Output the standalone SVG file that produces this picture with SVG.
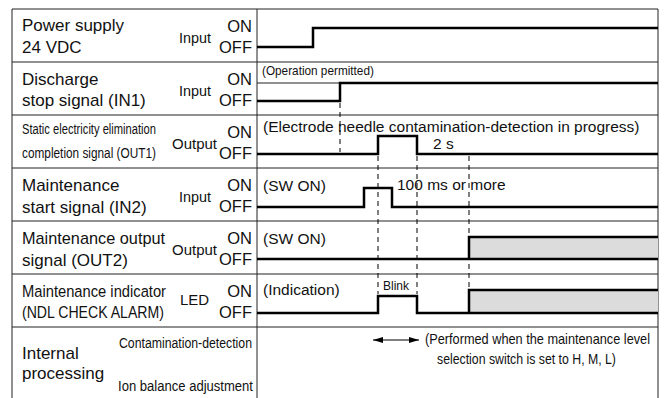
<svg xmlns="http://www.w3.org/2000/svg" width="664" height="398" viewBox="0 0 664 398">
<defs>
<style>
.t{font-family:"Liberation Sans",Arial,sans-serif;fill:#111}
.lb{font-size:17px}
.sm{font-size:15px}
.oo{font-size:16.5px;text-anchor:end}
.sig{fill:none;stroke:#000;stroke-width:2.5;stroke-linejoin:miter}
.grid{fill:none;stroke:#222;stroke-width:1}
.dash{fill:none;stroke:#000;stroke-width:1;stroke-dasharray:5 4}
.gray{fill:#dcdcdc;stroke:none}
</style>
<marker id="ah" viewBox="0 0 10 6" refX="10" refY="3" markerWidth="10" markerHeight="6" orient="auto-start-reverse" markerUnits="userSpaceOnUse">
<path d="M0,0 L10,3 L0,6 Z" fill="#000"/>
</marker>
</defs>
<rect width="664" height="398" fill="#fff"/>

<g id="frame" class="grid">
<path d="M12,398 V9 H658 V398"/>
<path d="M257,9 V398"/>
<path d="M12,62 H658 M12,115 H658 M12,168 H658 M12,221 H658 M12,274 H658 M12,327 H658"/>
<path d="M257,83 H340"/>
</g>

<g id="row-power">
<text class="t lb" x="22" y="31">Power supply</text>
<text class="t lb" x="22" y="53">24 VDC</text>
<text class="t sm" x="179" y="43" textLength="32" lengthAdjust="spacingAndGlyphs">Input</text>
<text class="t oo" x="252" y="32">ON</text>
<text class="t oo" x="252" y="53">OFF</text>
<path class="sig" d="M257,47 H313 V28 H658"/>
</g>

<g id="row-in1">
<text class="t lb" x="22" y="85">Discharge</text>
<text class="t lb" x="22" y="106">stop signal (IN1)</text>
<text class="t sm" x="179" y="96" textLength="32" lengthAdjust="spacingAndGlyphs">Input</text>
<text class="t oo" x="252" y="85">ON</text>
<text class="t oo" x="252" y="106">OFF</text>
<text class="t" transform="translate(262,75) scale(0.94,1)" font-size="12.5" textLength="119" lengthAdjust="spacingAndGlyphs">(Operation permitted)</text>
<path class="sig" d="M257,101 H340 V83 H658"/>
</g>

<g id="row-out1">
<text class="t" transform="translate(22,134) scale(0.75,1)" font-size="15" textLength="178.7" lengthAdjust="spacingAndGlyphs">Static electricity elimination</text>
<text class="t" transform="translate(22,158) scale(0.79,1)" font-size="15" textLength="169.6" lengthAdjust="spacingAndGlyphs">completion signal (OUT1)</text>
<text class="t sm" x="172" y="149" textLength="45" lengthAdjust="spacingAndGlyphs">Output</text>
<text class="t oo" x="252" y="138">ON</text>
<text class="t oo" x="252" y="159">OFF</text>
<text class="t" x="263" y="132" font-size="15.5">(Electrode needle contamination-detection in progress)</text>
<text class="t" x="433" y="149" font-size="15.5">2 s</text>
<path class="sig" d="M257,154 H378 V136 H417 V154 H658"/>
</g>

<g id="row-in2">
<text class="t lb" x="22" y="191">Maintenance</text>
<text class="t lb" x="22" y="213">start signal (IN2)</text>
<text class="t sm" x="179" y="202" textLength="32" lengthAdjust="spacingAndGlyphs">Input</text>
<text class="t oo" x="252" y="191">ON</text>
<text class="t oo" x="252" y="212">OFF</text>
<text class="t" x="263" y="191" font-size="15.5">(SW ON)</text>
<text class="t" x="397" y="190" font-size="15.5">100 ms or more</text>
<path class="sig" d="M257,207 H364 V188 H392 V207 H658"/>
</g>

<g id="row-out2">
<text class="t lb" transform="translate(22,244) scale(0.96,1)" textLength="149" lengthAdjust="spacingAndGlyphs">Maintenance output</text>
<text class="t lb" x="22" y="266">signal (OUT2)</text>
<text class="t sm" x="172" y="255" textLength="45" lengthAdjust="spacingAndGlyphs">Output</text>
<text class="t oo" x="252" y="244">ON</text>
<text class="t oo" x="252" y="265">OFF</text>
<text class="t" x="263" y="244" font-size="15.5">(SW ON)</text>
<rect class="gray" x="469" y="237" width="189" height="22"/>
<path class="sig" d="M257,259 H658 M469,259 V237 H658"/>
</g>

<g id="row-led">
<text class="t" transform="translate(22,297) scale(0.9,1)" font-size="16.5" textLength="160" lengthAdjust="spacingAndGlyphs">Maintenance indicator</text>
<text class="t" transform="translate(22,318) scale(0.85,1)" font-size="16.5" textLength="167" lengthAdjust="spacingAndGlyphs">(NDL CHECK ALARM)</text>
<text class="t sm" x="180" y="305">LED</text>
<text class="t oo" x="252" y="297">ON</text>
<text class="t oo" x="252" y="318">OFF</text>
<text class="t" x="263" y="295" font-size="15.5">(Indication)</text>
<text class="t" x="383" y="290" font-size="12">Blink</text>
<rect class="gray" x="469" y="290" width="189" height="23"/>
<path class="sig" d="M257,313 H378 V296 H417 V313 H658 M469,313 V290 H658"/>
</g>

<g id="row-internal">
<text class="t lb" x="22" y="359">Internal</text>
<text class="t lb" x="22" y="379">processing</text>
<text class="t" transform="translate(252,348) scale(0.85,1)" font-size="14.5" text-anchor="end" textLength="156.5" lengthAdjust="spacingAndGlyphs">Contamination-detection</text>
<text class="t" transform="translate(253,391) scale(0.9,1)" font-size="14.5" text-anchor="end" textLength="150" lengthAdjust="spacingAndGlyphs">Ion balance adjustment</text>
<text class="t" transform="translate(425,344) scale(0.87,1)" font-size="14.5" textLength="258.6" lengthAdjust="spacingAndGlyphs">(Performed when the maintenance level</text>
<text class="t" transform="translate(437,364) scale(0.87,1)" font-size="14.5" textLength="205.7" lengthAdjust="spacingAndGlyphs">selection switch is set to H, M, L)</text>
</g>

<g id="connectors">
<path class="dash" d="M340,103 V152"/>
<path class="dash" d="M378,156 V294"/>
<path class="dash" d="M417,156 V294"/>
<path class="dash" d="M469,156 V288"/>
<path d="M373,340 H419" stroke="#000" stroke-width="1" marker-start="url(#ah)" marker-end="url(#ah)"/>
</g>
</svg>
